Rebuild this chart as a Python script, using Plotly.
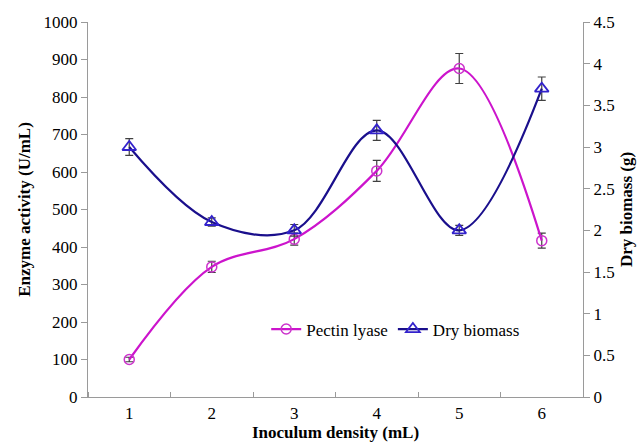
import plotly.graph_objects as go

inoculum = [1, 2, 3, 4, 5, 6]
pectin_lyase = [100, 347, 421, 603, 876, 417]
pectin_err = [6, 15, 16, 28, 40, 20]
dry_biomass = [3.0, 2.1, 2.0, 3.2, 2.0, 3.7]
biomass_err = [0.1, 0.05, 0.07, 0.12, 0.06, 0.14]

font_family = "Liberation Serif"
axis_gray = "#9a9a9a"

fig = go.Figure()
fig.add_trace(go.Scatter(
    x=inoculum, y=pectin_lyase, name="Pectin lyase",
    mode="lines+markers", line=dict(color="#CC14CC", width=2.2, shape="spline", smoothing=1),
    marker=dict(symbol="circle-open", size=10, color="#CC33CC", line=dict(width=1.5)),
    error_y=dict(type="data", array=pectin_err, color="#404040", thickness=1.2, width=4),
))
fig.add_trace(go.Scatter(
    x=inoculum, y=dry_biomass, name="Dry biomass", yaxis="y2",
    mode="lines+markers", line=dict(color="#1A0F8C", width=2.2, shape="spline", smoothing=1),
    marker=dict(symbol="triangle-up-open", size=12, color="#3322CC", line=dict(width=1.8)),
    error_y=dict(type="data", array=biomass_err, color="#404040", thickness=1.2, width=4),
))

fig.update_layout(
    width=643, height=446,
    margin=dict(l=88, r=60, t=22, b=49),
    plot_bgcolor="white", paper_bgcolor="white",
    font=dict(family=font_family, size=17, color="black"),
    showlegend=True,
    legend=dict(orientation="h", x=0.36, y=0.18, xanchor="left", yanchor="middle",
                bgcolor="rgba(0,0,0,0)", font=dict(size=17), itemwidth=30),
    xaxis=dict(range=[0.5, 6.5], tickvals=inoculum, ticks="", showgrid=False, automargin=False,
               showline=True, linecolor=axis_gray, linewidth=1.2, zeroline=False,
               minor=dict(tick0=0.5, dtick=1, ticks="inside", ticklen=5, tickcolor=axis_gray),
               title=dict(text="<b>Inoculum density (mL)</b>", standoff=4, font=dict(size=17))),
    yaxis=dict(range=[0, 1000], dtick=100, ticks="outside", ticklen=6, tickcolor=axis_gray,
               automargin=False,
               showgrid=False, showline=True, linecolor=axis_gray, linewidth=1.2, zeroline=False,
               title=dict(text="<b>Enzyme activity (U/mL)</b>", standoff=8, font=dict(size=17))),
    yaxis2=dict(range=[0, 4.5], dtick=0.5, overlaying="y", side="right", ticks="outside",
                automargin=False,
                ticklen=6, tickcolor=axis_gray, showgrid=False, showline=True,
                linecolor=axis_gray, linewidth=1.2, zeroline=False,
                title=dict(text="<b>Dry biomass (g)</b>", standoff=6, font=dict(size=17))),
)

fig.write_html("out.html")
